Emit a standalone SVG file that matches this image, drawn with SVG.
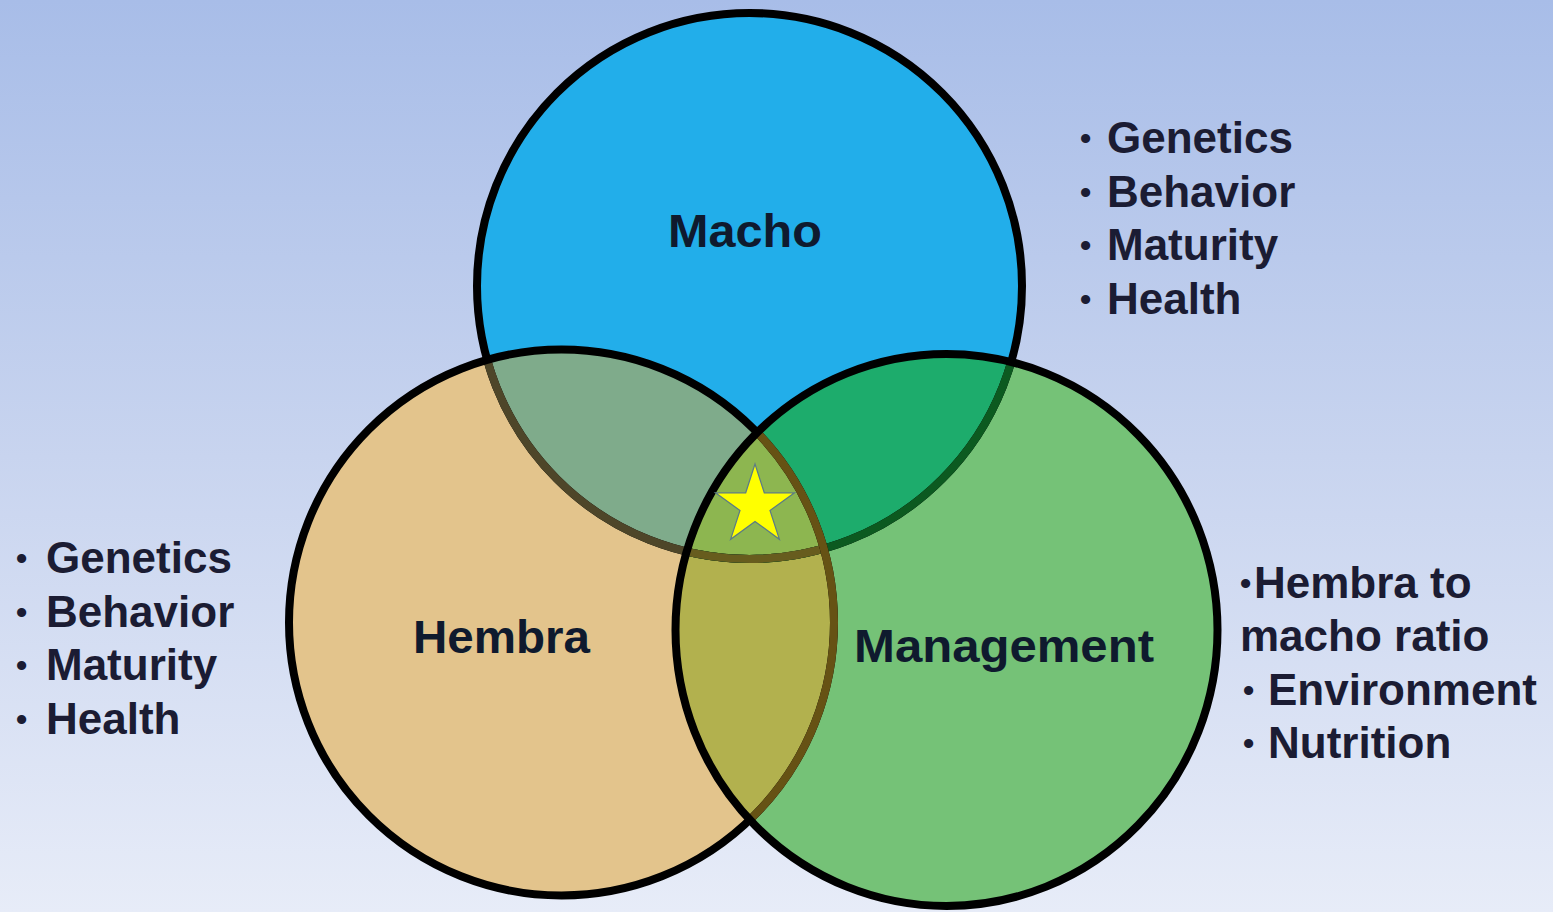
<svg xmlns="http://www.w3.org/2000/svg" width="1553" height="912" viewBox="0 0 1553 912">
<style>
.lbl{font-family:"Liberation Sans",Arial,sans-serif;font-weight:bold;font-size:46px;fill:#0f1a2e}
.lst{font-family:"Liberation Sans",Arial,sans-serif;font-weight:bold;font-size:44px;fill:#1b1c33}
.b{font-size:32px}
.ol{fill:none;stroke-width:8}
</style>
<defs>
<linearGradient id="bg" x1="0" y1="0" x2="0" y2="1">
<stop offset="0" stop-color="#a8bde8"/>
<stop offset="0.5" stop-color="#c8d4ef"/>
<stop offset="1" stop-color="#e7ecf8"/>
</linearGradient>
<ellipse id="eM" cx="749.5" cy="286" rx="272.5" ry="273"/>
<ellipse id="eH" cx="561.5" cy="622.5" rx="272.5" ry="273"/>
<ellipse id="eG" cx="946.5" cy="630" rx="271" ry="276"/>
<clipPath id="cM"><use href="#eM"/></clipPath>
<clipPath id="cH"><use href="#eH"/></clipPath>
<clipPath id="cG"><use href="#eG"/></clipPath>
</defs>
<rect width="1553" height="912" fill="url(#bg)"/>
<g id="macho">
<use href="#eM" fill="#22aeea"/>
</g>
<g id="hembra">
<use href="#eH" fill="#e3c48c"/>
<g clip-path="url(#cM)"><use href="#eH" fill="#7fab8b"/></g>
</g>
<g id="management">
<use href="#eG" fill="#75c277"/>
<g clip-path="url(#cM)"><use href="#eG" fill="#1dac6c"/></g>
<g clip-path="url(#cH)"><use href="#eG" fill="#b2b14e"/></g>
<g clip-path="url(#cH)"><g clip-path="url(#cM)"><use href="#eG" fill="#8db650"/></g></g>
</g>
<g id="outlines">
<use href="#eM" class="ol" stroke="#000"/>
<g clip-path="url(#cH)"><use href="#eM" class="ol" stroke="#4e4629"/></g>
<g clip-path="url(#cG)"><use href="#eM" class="ol" stroke="#0c5a20"/></g>
<g clip-path="url(#cH)"><g clip-path="url(#cG)"><use href="#eM" class="ol" stroke="#675c1e"/></g></g>
<use href="#eH" class="ol" stroke="#000"/>
<g clip-path="url(#cG)"><use href="#eH" class="ol" stroke="#665214"/></g>
<use href="#eG" class="ol" stroke="#000"/>
</g>
<g id="star">
<polygon points="755,464 764.3,492.8 794.5,492.8 770,510.5 779.4,539.3 755,521.5 730.6,539.3 740,510.5 715.5,492.8 745.7,492.8" fill="#ffff00" stroke="#5b7b86" stroke-width="1.2"/>
</g>
<g id="labels">
<text class="lbl" x="668" y="247" textLength="154" lengthAdjust="spacingAndGlyphs">Macho</text>
<text class="lbl" x="413" y="653" textLength="177" lengthAdjust="spacingAndGlyphs">Hembra</text>
<text class="lbl" x="854" y="662" textLength="300" lengthAdjust="spacingAndGlyphs">Management</text>
</g>
<g id="macho-list">
<text class="lst" x="1080" y="149"><tspan class="b">• </tspan><tspan x="1107" y="153">Genetics</tspan></text>
<text class="lst" x="1080" y="203"><tspan class="b">• </tspan><tspan x="1107" y="207">Behavior</tspan></text>
<text class="lst" x="1080" y="256"><tspan class="b">• </tspan><tspan x="1107" y="260">Maturity</tspan></text>
<text class="lst" x="1080" y="310"><tspan class="b">• </tspan><tspan x="1107" y="314">Health</tspan></text>
</g>
<g id="hembra-list">
<text class="lst" x="16" y="569"><tspan class="b">• </tspan><tspan x="46" y="573">Genetics</tspan></text>
<text class="lst" x="16" y="623"><tspan class="b">• </tspan><tspan x="46" y="627">Behavior</tspan></text>
<text class="lst" x="16" y="676"><tspan class="b">• </tspan><tspan x="46" y="680">Maturity</tspan></text>
<text class="lst" x="16" y="730"><tspan class="b">• </tspan><tspan x="46" y="734">Health</tspan></text>
</g>
<g id="management-list">
<text class="lst" x="1240" y="594"><tspan class="b">•</tspan><tspan x="1254" y="598">Hembra to</tspan></text>
<text class="lst" x="1240" y="651">macho ratio</text>
<text class="lst" x="1243" y="701"><tspan class="b">• </tspan><tspan x="1268" y="705">Environment</tspan></text>
<text class="lst" x="1243" y="754"><tspan class="b">• </tspan><tspan x="1268" y="758">Nutrition</tspan></text>
</g>
</svg>
